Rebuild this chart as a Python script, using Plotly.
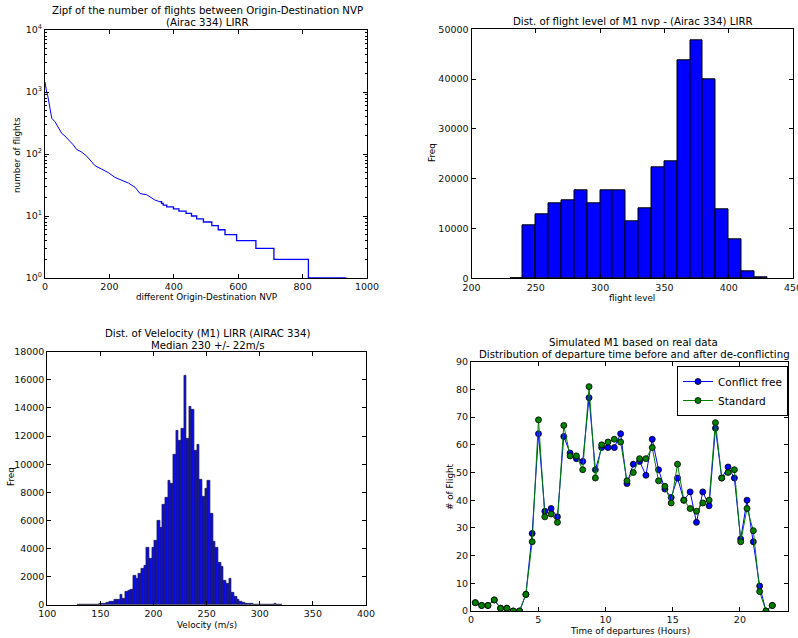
import plotly.graph_objects as go

# ---------------- DATA ----------------
# Zipf (rank, number of flights) - upper part (continuous)
zipf_head_rank = [0, 2, 5, 8, 12, 16, 21, 31, 41, 52, 62, 72, 88, 98, 114, 129, 145, 155, 176, 197,
                  217, 238, 259, 280, 295, 316, 330, 342, 357]
zipf_head_val = [1450, 1200, 1000, 900, 660, 480, 377, 332, 276, 215, 195, 172, 140, 119, 107, 93, 75, 65, 57, 50,
                 42, 38, 34, 29, 23, 22, 20, 18, 17]
# Zipf lower part (integer steps): rank where value starts
zipf_tail_rank = [357, 362, 367, 378, 399, 416, 438, 455, 471, 492, 518, 538, 559, 595, 655, 711, 818, 936]
zipf_tail_val = [17, 16, 15, 14, 13, 12, 11, 10, 9, 8, 7, 6, 5, 4, 3, 2, 1, 1]

# Flight level histogram
fl_bin_left = [230, 240, 250, 260, 270, 280, 290, 300, 310, 320, 330, 340, 350, 360, 370, 380, 390, 400, 410, 420]
fl_freq = [70, 10600, 12900, 15100, 15700, 17600, 15100, 17600, 17600, 11400, 14000, 22300, 23500, 43800, 47700,
           40000, 13900, 7800, 1400, 130]

# Velocity histogram (bin width 2.5 m/s)
vel_bin_left = [128.5 + 2.5 * k for k in range(77)]
vel_freq = [10, 10, 20, 30, 30, 40, 40, 50, 60, 80, 100, 130, 200, 250, 350, 400, 700, 450, 950, 1000,
            1100, 2100, 1900, 2200, 2600, 2800, 4100, 3300, 4100, 4600, 6000, 5500, 7100, 7600, 8800, 8600,
            10700, 12400, 11700, 12500, 16300, 11800, 14100, 13900, 11000, 11400, 8900, 7700, 8300, 8800,
            6500, 4500, 4100, 3000, 2700, 1700, 1500, 1900, 900, 600, 350, 250, 150, 120, 80, 60, 50, 40,
            30, 20, 10, 5, 5, 5, 60, 0, 0]

# Departures
dep_hours = [0.32, 0.79, 1.26, 1.73, 2.20, 2.67, 3.14, 3.61, 4.08, 4.55, 5.02, 5.49, 5.96, 6.43, 6.90, 7.37,
             7.84, 8.31, 8.78, 9.25, 9.72, 10.19, 10.66, 11.13, 11.60, 12.07, 12.54, 13.01, 13.48, 13.95,
             14.42, 14.89, 15.36, 15.83, 16.30, 16.77, 17.24, 17.71, 18.18, 18.65, 19.12, 19.59, 20.06,
             20.53, 21.00, 21.47, 21.94, 22.41]
conflict_free = [3, 2, 2, 4, 1, 1, 0, 0, 6, 28, 64, 36, 37, 34, 63, 57, 55, 54, 77, 51, 59, 59, 59, 64,
                 46, 53, 54, 49, 62, 51, 44, 41, 48, 40, 43, 32, 43, 38, 66, 48, 52, 48, 26, 40, 25, 9, 0, 2]
standard = [3, 2, 2, 4, 1, 1, 0, 0, 6, 25, 69, 34, 35, 32, 67, 56, 56, 51, 81, 48, 60, 61, 62, 61,
            47, 50, 55, 55, 59, 47, 45, 39, 53, 40, 37, 36, 39, 40, 68, 48, 50, 51, 25, 37, 29, 7, 0, 2]

# ---------------- FIGURE ----------------
W, H = 798, 638
FONT = "DejaVu Sans"
fig = go.Figure()

def px(x):
    return x / W

def py(y):
    return 1 - y / H

# Zipf
fig.add_trace(go.Scatter(x=zipf_head_rank, y=zipf_head_val, mode="lines", line=dict(color="#0000ff", width=1),
                         xaxis="x", yaxis="y", showlegend=False))
fig.add_trace(go.Scatter(x=zipf_tail_rank, y=zipf_tail_val, mode="lines", line=dict(color="#0000ff", width=1.3, shape="hv"),
                         xaxis="x", yaxis="y", showlegend=False))

# Flight level histogram
fig.add_trace(go.Bar(x=[b + 5 for b in fl_bin_left], y=fl_freq, width=10,
                     marker=dict(color="#0000ff", line=dict(color="black", width=1)),
                     xaxis="x2", yaxis="y2", showlegend=False))

# Velocity histogram
fig.add_trace(go.Bar(x=[b + 1.25 for b in vel_bin_left], y=vel_freq, width=2.5,
                     marker=dict(color="#0a0ae6", line=dict(color="#222244", width=0.7)),
                     xaxis="x3", yaxis="y3", showlegend=False))

# Departures
fig.add_trace(go.Scatter(x=dep_hours, y=conflict_free, mode="lines+markers", name="Conflict free",
                         line=dict(color="#0000ff", width=1),
                         marker=dict(color="#0000ff", size=6, line=dict(color="black", width=0.8)),
                         xaxis="x4", yaxis="y4"))
fig.add_trace(go.Scatter(x=dep_hours, y=standard, mode="lines+markers", name="Standard",
                         line=dict(color="#008000", width=1),
                         marker=dict(color="#008000", size=6, line=dict(color="black", width=0.8)),
                         xaxis="x4", yaxis="y4"))

axis_common = dict(showline=True, linecolor="black", linewidth=1, mirror="ticks", ticks="inside",
                   ticklen=4, tickcolor="black", showgrid=False, zeroline=False, automargin=False,
                   tickfont=dict(family=FONT, size=9.5, color="#111"), ticklabeloverflow="allow")

dom = {
    1: ([px(45), px(367)], [py(278), py(30)]),
    2: ([px(471.5), px(793)], [py(278.3), py(29.3)]),
    3: ([px(47.3), px(366)], [py(605), py(351.7)]),
    4: ([px(471), px(788.3)], [py(611), py(361.7)]),
}

minor_log = [m * 10 ** d for d in range(4) for m in range(2, 10)]

def txt(vals):
    return [str(v) for v in vals]

fl_ticks = [0, 10000, 20000, 30000, 40000, 50000]
vel_ticks = list(range(0, 18001, 2000))

fig.update_layout(
    width=W, height=H, margin=dict(l=0, r=0, t=0, b=0, autoexpand=False),
    paper_bgcolor="white", plot_bgcolor="white",
    font=dict(family=FONT, color="black"),
    bargap=0,
    xaxis=dict(domain=dom[1][0], range=[0, 1000], tickvals=[0, 200, 400, 600, 800, 1000], anchor="y", **axis_common),
    yaxis=dict(domain=dom[1][1], type="log", range=[0, 4], tickvals=[1, 10, 100, 1000, 10000],
               ticktext=["10<sup>0</sup>", "10<sup>1</sup>", "10<sup>2</sup>", "10<sup>3</sup>", "10<sup>4</sup>"],
               minor=dict(tickvals=minor_log, ticks="inside", ticklen=2, tickcolor="black"),
               anchor="x", **axis_common),
    xaxis2=dict(domain=dom[2][0], range=[200, 450], tickvals=[200, 250, 300, 350, 400, 450], anchor="y2", **axis_common),
    yaxis2=dict(domain=dom[2][1], range=[0, 50000], tickvals=fl_ticks, ticktext=txt(fl_ticks), anchor="x2", **axis_common),
    xaxis3=dict(domain=dom[3][0], range=[100, 400], tickvals=[100, 150, 200, 250, 300, 350, 400], anchor="y3", **axis_common),
    yaxis3=dict(domain=dom[3][1], range=[0, 18000], tickvals=vel_ticks, ticktext=txt(vel_ticks), anchor="x3", **axis_common),
    xaxis4=dict(domain=dom[4][0], range=[0, 23.6], tickvals=[0, 5, 10, 15, 20], anchor="y4", **axis_common),
    yaxis4=dict(domain=dom[4][1], range=[0, 90], tickvals=list(range(0, 91, 10)), anchor="x4", **axis_common),
    legend=dict(x=px(788), y=py(366), xanchor="right", yanchor="top", bordercolor="black", borderwidth=1,
                bgcolor="white", font=dict(family=FONT, size=10.5, color="black"),
                tracegroupgap=0, itemwidth=30),
)

def ann(text, x, y, size=10.2, angle=0):
    fig.add_annotation(text=text, x=px(x), y=py(y), xref="paper", yref="paper", showarrow=False,
                       xanchor="center", yanchor="middle", textangle=angle,
                       font=dict(family=FONT, size=size, color="black"))

# Titles
ann("Zipf of the number of flights between Origin-Destination NVP", 207, 10.5)
ann("(Airac 334) LIRR", 207, 22.5)
ann("Dist. of flight level of M1 nvp - (Airac 334) LIRR", 633, 22)
ann("Dist. of Velelocity (M1) LIRR (AIRAC 334)", 208, 333.5)
ann("Median 230 +/- 22m/s", 208, 345.5)
ann("Simulated M1 based on real data", 633, 342.5)
ann("Distribution of departure time before and after de-conflicting", 634, 354.5)

# Axis labels
ann("different Origin-Destination NVP", 206, 297, size=8.8)
ann("number of flights", 17, 155, size=8.8, angle=-90)
ann("flight level", 632, 297.5, size=8.8)
ann("Freq", 432, 153, size=8.8, angle=-90)
ann("Velocity (m/s)", 207, 624.5, size=8.8)
ann("Freq", 11, 477, size=8.8, angle=-90)
ann("Time of departures (Hours)", 630, 631, size=8.8)
ann("# of Flight", 450, 487, size=8.8, angle=-90)

fig.write_html("out.html", config={"displayModeBar": False},
               post_script="document.body.style.margin='0px'; document.body.style.overflow='hidden';")
